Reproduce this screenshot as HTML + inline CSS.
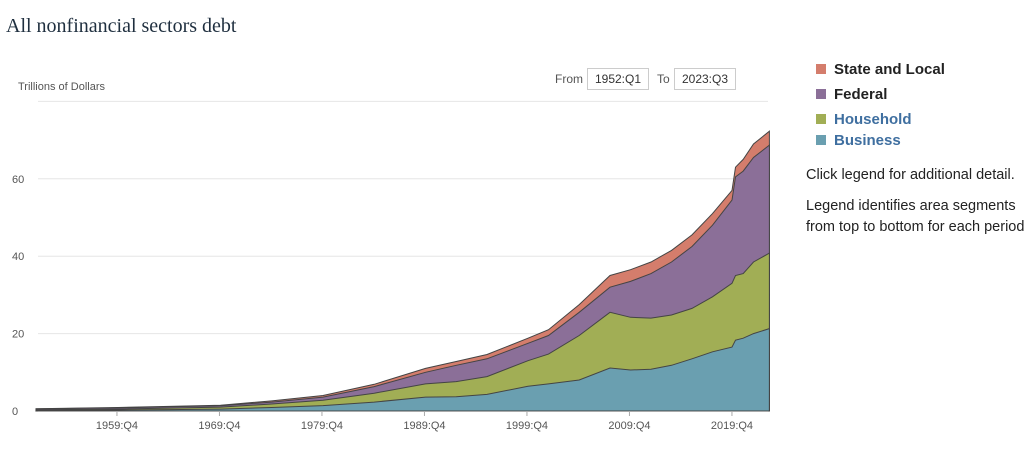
<!DOCTYPE html>
<html><head><meta charset="utf-8"><style>
body{margin:0;width:1024px;height:468px;background:#fff;overflow:hidden;font-family:"Liberation Sans",sans-serif;position:relative}
.t{position:absolute;left:6px;top:15px;font-family:"Liberation Serif",serif;font-size:20px;color:#1f2f3f}
.box{position:absolute;top:68px;height:20px;border:1px solid #ccc;font-size:12px;color:#333;line-height:20px;text-align:center}
.lab{position:absolute;font-size:12px;color:#555}
.lg{position:absolute;left:816px;font-size:15px;font-weight:bold;color:#222}
.lg i{display:inline-block;width:10px;height:10px;margin-right:8px;vertical-align:0}
.note{position:absolute;left:806px;font-size:14.5px;color:#222;line-height:21px;white-space:nowrap}
</style></head><body>
<div class="t">All nonfinancial sectors debt</div>
<div class="lab" style="left:18px;top:81px;font-size:11px">Trillions of Dollars</div>
<div class="lab" style="left:555px;top:72px">From</div>
<div class="box" style="left:587px;width:60px">1952:Q1</div>
<div class="lab" style="left:657px;top:72px">To</div>
<div class="box" style="left:674px;width:60px">2023:Q3</div>
<div class="lg" style="top:61px"><i style="background:#d47d6c"></i>State and Local</div>
<div class="lg" style="top:86px"><i style="background:#8b6f98"></i>Federal</div>
<div class="lg" style="top:111px;color:#3f6fa0"><i style="background:#a1ae55"></i>Household</div>
<div class="lg" style="top:132px;color:#3f6fa0"><i style="background:#6a9fb0"></i>Business</div>
<div class="note" style="top:165px">Click legend for additional detail.</div>
<div class="note" style="top:196px">Legend identifies area segments<br>from top to bottom for each period</div>
<svg id="s" width="1024" height="468" style="position:absolute;left:0;top:0"></svg>
<script>
var d=[[1952,.15,.3,.55,.6],[1960,.25,.5,.8,.9],[1965,.35,.75,1.1,1.2],[1970,.5,1,1.35,1.5],[1975,.9,1.8,2.3,2.6],[1980,1.4,2.8,3.6,4],[1985,2.3,4.6,6.3,6.9],[1990,3.6,7,10,11],[1993,3.7,7.6,11.8,12.8],[1996,4.3,8.9,13.5,14.6],[2000,6.4,13,17.5,18.8],[2002,7,14.7,19.5,21],[2005,8,19.5,25.5,27.5],[2008,11.1,25.5,32,35],[2010,10.6,24.2,33.5,36.5],[2012,10.8,24,35.5,38.5],[2014,11.8,24.8,38.5,41.5],[2016,13.5,26.5,42.5,45.5],[2018,15.3,29.5,48,51],[2019.9,16.5,33,54.5,57],[2020.25,18.3,35,60.5,63],[2021,18.8,35.5,62,65],[2022,20,38.5,65.5,69],[2023.55,21.3,40.8,68.7,72.3]];
function X(y){return 37+(y-1952.1)*10.25}function Y(v){return 411-v*3.87}
var h='';
[80,60,40,20].forEach(function(v){h+='<line x1="38" x2="768" y1="'+Y(v)+'" y2="'+Y(v)+'" stroke="#e6e6e6"/>'});
['60','40','20','0'].forEach(function(t){h+='<text x="12" y="'+(Y(+t)+4)+'" font-size="11" fill="#555" font-family="Liberation Sans">'+t+'</text>'});
var cols=['#6a9fb0','#a1ae55','#8b6f98','#d47d6c'];
for(var k=4;k>=1;k--){var p='M'+X(d[0][0])+','+Y(0);d.forEach(function(r){p+=' L'+X(r[0]).toFixed(1)+','+Y(r[k]).toFixed(1)});p+=' L'+X(2023.55)+','+Y(0)+'Z';h+='<path d="'+p+'" fill="'+cols[k-1]+'" stroke="#444" stroke-width="1"/>';}
h+='<line x1="38" x2="768" y1="411.5" y2="411.5" stroke="#aaa"/>';
for(var y=1959;y<=2019;y+=10){var x=X(y+.9);h+='<line x1="'+x+'" x2="'+x+'" y1="411" y2="416" stroke="#aaa"/><text x="'+x+'" y="429" font-size="11" fill="#555" text-anchor="middle" font-family="Liberation Sans">'+y+':Q4</text>';}
document.getElementById('s').innerHTML=h;
</script>
</body></html>
